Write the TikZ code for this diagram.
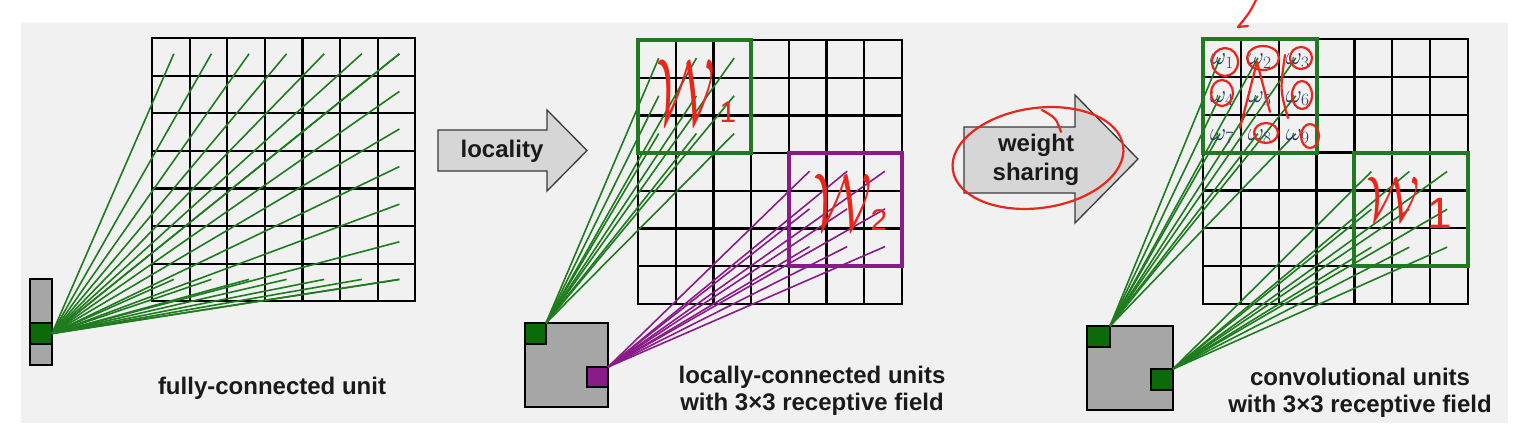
\documentclass[tikz,border=0pt]{standalone}
\usepackage{fontspec}
\setmainfont{Liberation Sans}
\usepackage{graphicx}
\definecolor{fan}{HTML}{1E7B1E}
\definecolor{rfgreen}{HTML}{217A21}
\definecolor{dkgreen}{HTML}{0B6B0B}
\definecolor{purp}{HTML}{8A1C8A}
\definecolor{unitgrey}{HTML}{A6A6A6}
\definecolor{arrowgrey}{HTML}{D6D6D6}
\definecolor{arrowedge}{HTML}{3A3A3A}
\definecolor{bg}{HTML}{F1F1F1}
\definecolor{ink}{HTML}{E8261C}
\definecolor{txt}{HTML}{1A1A1A}
\definecolor{omegacol}{HTML}{2A3A6A}
% #1 x0, #2 y0, #3 cell size, #4 name prefix, #5 #6 point fraction in cell
\newcommand\cnngrid[6]{%
  \draw[gridline] (#1,#2) rectangle ({#1+7*#3},{#2+7*#3});
  \foreach \k in {1,...,6}{%
    \draw[gridline] ({#1+\k*#3},#2) -- ({#1+\k*#3},{#2+7*#3});
    \draw[gridline] (#1,{#2+\k*#3}) -- ({#1+7*#3},{#2+\k*#3});
  }%
  \foreach \i in {1,...,7}{\foreach \j in {1,...,7}{%
    \coordinate (#4-\i-\j) at ({#1+(\i-1+#5)*#3},{#2+(\j-1+#6)*#3});
  }}%
}
\begin{document}
\begin{tikzpicture}[x=1pt,y=-1pt,
  gridline/.style={draw=black, line width=2.2pt},
  fanline/.style={draw=fan, line width=1.6pt},
  purpline/.style={draw=purp, line width=1.6pt},
  rfbox/.style={line width=4pt},
  unitbox/.style={draw=black, fill=unitgrey, line width=1.8pt, inner sep=0pt, outer sep=0pt},
  greencell/.style={unitbox, fill=dkgreen},
  purpcell/.style={unitbox, fill=purp},
  caption/.style={font=\fontsize{24}{27.5}\selectfont\bfseries, text=txt, align=center, inner sep=0pt},
  arrowshape/.style={fill=arrowgrey, draw=arrowedge, line width=1.3pt, line join=miter},
  arrowtext/.style={font=\fontsize{24}{29}\selectfont\bfseries, text=txt, align=center, inner sep=0pt},
  omegalabel/.style={font=\fontsize{24}{24}\selectfont, text=omegacol, inner sep=0pt},
  redtext/.style={font=\fontsize{24}{24}\selectfont, text=ink, inner sep=0pt},
  redsub/.style={font=\fontsize{30}{30}\selectfont, text=ink, inner sep=0pt},
  redink/.style={draw=ink, line width=2.2pt, line cap=round, line join=round}]
\useasboundingbox (0,0) rectangle (1520,442);
\fill[bg] (21,23) rectangle (1508,423);

% grids
\cnngrid{152}{38}{37.6}{A}{0.58}{0.42}
\cnngrid{638}{40}{37.7}{B}{0.55}{0.48}
\cnngrid{1203}{39}{37.85}{C}{0.45}{0.5}

% input units
\node[unitbox, minimum width=22, minimum height=86] (u1) at (41,322) {};
\node[greencell, minimum width=22, minimum height=21] (u1g) at (41,333.5) {};
\node[unitbox, minimum width=83, minimum height=84] (u2) at (566.5,365) {};
\node[greencell, minimum width=21, minimum height=21] (u2g) at (535.5,333.5) {};
\node[purpcell, minimum width=21, minimum height=20] (u2p) at (597.5,377) {};
\node[unitbox, minimum width=86, minimum height=84] (u3) at (1130,368) {};
\node[greencell, minimum width=23, minimum height=21] (u3a) at (1098.5,336.5) {};
\node[greencell, minimum width=22, minimum height=21] (u3b) at (1162,379.5) {};

% connections
\foreach \i in {1,...,7}{
  \draw[fanline] (u1g.east) -- (A-\i-1);
  \draw[fanline] (u1g.east) -- (A-\i-7);
  \draw[fanline] (u1g.east) -- (A-7-\i);
}
\foreach \i in {1,2,3}{\foreach \j in {1,2,3}{\draw[fanline] (u2g.north east) -- (B-\i-\j);}}
\foreach \i in {5,6,7}{\foreach \j in {4,5,6}{\draw[purpline] (u2p.north east) -- (B-\i-\j);}}
\foreach \i in {1,2,3}{\foreach \j in {1,2,3}{\draw[fanline] (u3a.north east) -- (C-\i-\j);}}
\foreach \i in {5,6,7}{\foreach \j in {4,5,6}{\draw[fanline] (u3b.north east) -- (C-\i-\j);}}

% receptive fields
\draw[rfbox, draw=rfgreen] (638,40) rectangle ++(113.1,113.1);
\draw[rfbox, draw=purp] (788.8,153.1) rectangle ++(113.1,113.1);
\draw[rfbox, draw=rfgreen] (1203,39) rectangle ++(113.55,113.55);
\draw[rfbox, draw=rfgreen] (1354.4,152.55) rectangle ++(113.55,113.55);

% arrows
\filldraw[arrowshape] (438,130) -- (547,130) -- (547,110) -- (587,150.5) -- (547,191) -- (547,171) -- (438,171) -- cycle;
\node[arrowtext] (loc) at (502,151) {locality};
\filldraw[arrowshape] (964,127) -- (1075,127) -- (1075,95) -- (1138,159) -- (1075,223) -- (1075,193) -- (964,193) -- cycle;
\node[arrowtext] (ws) at (1036,160) {weight\\sharing};

% captions
\node[caption] (cap1) at (272,388) {fully-connected unit};
\node[caption] (cap2) at (812,391) {locally-connected units\\with 3×3 receptive field};
\node[caption] (cap3) at (1360,393) {convolutional units\\with 3×3 receptive field};

% weights
\foreach \n/\i/\j in {1/1/1,2/2/1,3/3/1,4/1/2,5/2/2,6/3/2,7/1/3,8/2/3,9/3/3}
  \node[omegalabel] (w\n) at ({1203+(\i-0.5)*37.85},{39+(\j-0.5)*37.85+3}) {$\omega_{\n}$};

% red annotations
\node[redtext] (W1a) at (686,92) {\scalebox{2.2}[3.8]{$\mathcal{W}$}};
\node[redsub] (W1asub) at (728,112) {1};
\node[redtext] (W2) at (843,202) {\scalebox{2.2}[3.3]{$\mathcal{W}$}};
\node[redsub] (W2sub) at (879,220) {2};
\node[redtext] (W1b) at (1393,199) {\scalebox{2.0}[2.6]{$\mathcal{W}$}};
\node[redsub, font=\fontsize{44}{44}\selectfont] (W1bsub) at (1440,213) {1};

\draw[redink, rotate around={8:(1038,158)}] (1038,158) ellipse [x radius=86, y radius=50];
\draw[redink] (1061,132) .. controls (1056,118) .. (1042,110);

\coordinate (ra0) at (1256,0);
\coordinate (ra1) at (1238,27);
\draw[redink] (ra0) .. controls (1250,12) .. (ra1) -- (1248,26);

\draw[redink] (1310,136) ellipse [x radius=9, y radius=12];
\draw[redink] (1266,133) ellipse [x radius=12, y radius=10];
\draw[redink] (1301,58) ellipse [x radius=11, y radius=11];
\draw[redink] (1302,95) ellipse [x radius=10, y radius=14];
\draw[redink] (1222,93) ellipse [x radius=11, y radius=13];
\draw[redink] (1225,62) ellipse [x radius=13, y radius=14];
\draw[redink] (1263,58) ellipse [x radius=16, y radius=12];
\draw[redink] (1257,62) -- (1240,128);
\draw[redink] (1257,62) -- (1270,112);
\draw[redink] (1285,55) .. controls (1280,90) .. (1288,118);
\end{tikzpicture}
\end{document}
